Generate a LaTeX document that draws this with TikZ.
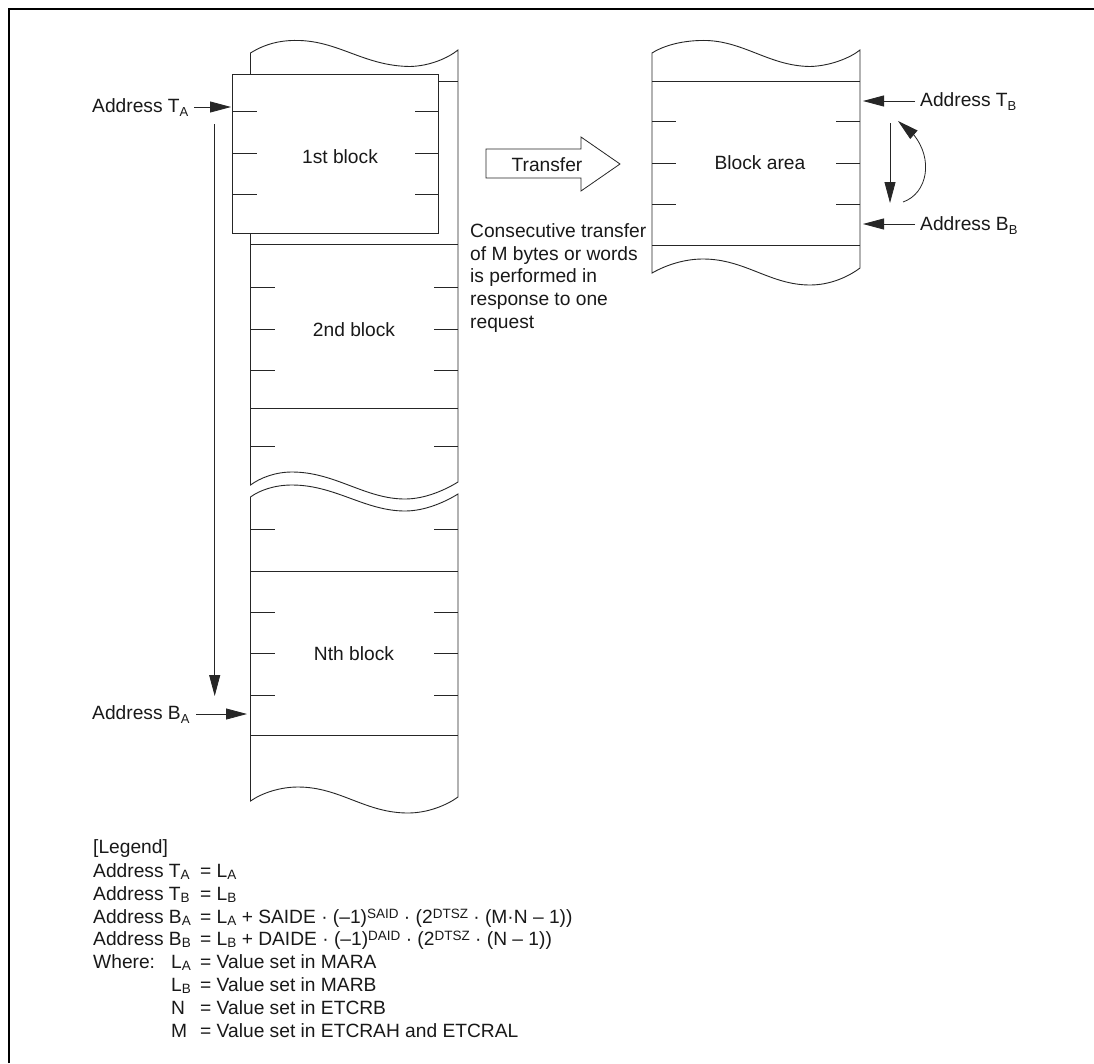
\documentclass[tikz,border=0pt]{standalone}
\usepackage{fontspec}
\setmainfont{Liberation Sans}
\usetikzlibrary{arrows.meta,bending}
\newcommand{\subs}[1]{\raisebox{-4.5pt}{\fontsize{13}{13}\selectfont #1}}
\newcommand{\lsub}[1]{\raisebox{-2pt}{\fontsize{13.5}{13.5}\selectfont #1}}
\newcommand{\sups}[1]{\raisebox{4.3pt}{\fontsize{13.5}{13.5}\selectfont #1}}
\tikzset{
  ln/.style={draw=black!85, line width=0.9pt},
  hd/.style={-{Triangle[length=21pt,width=11pt]}, draw=black!85, line width=0.8pt},
  lab/.style={anchor=base west, inner sep=0pt, text=black!90, font=\fontsize{19.2}{19.2}\selectfont},
  ctr/.style={anchor=base, inner sep=0pt, text=black!90, font=\fontsize{19.2}{19.2}\selectfont}
}
\begin{document}
\begin{tikzpicture}[x=1pt,y=-1pt]
\useasboundingbox (0,0) rectangle (1094,1063);
\path[fill=white] (0,0) rectangle (1094,1063);
\draw[black,line width=2pt] (9,1063) -- (9,9) -- (1094,9);
% memory A top part
\draw[ln] (250.5,74) -- (250.5,53) .. controls (268,42) and (285,40) .. (300,40.5) .. controls (340,42) and (365,66) .. (410,66.5) .. controls (430,66) and (448,58) .. (458,50) -- (458,482) .. controls (445,490) and (425,499) .. (405,499) .. controls (365,499) and (335,472) .. (292,472) .. controls (275,472) and (260,478) .. (250.5,485) -- (250.5,233);
\draw[ln] (438,81) -- (458,81);
\draw[ln] (250.5,244.5) -- (458,244.5);
\node[ctr] (n2) at (354,336) {2nd block};
\foreach \y in {287,329,370,446}{
  \draw[ln] (250.5,\y) -- +(24,0);
  \draw[ln] (458,\y) -- +(-24,0);
}
\draw[ln] (250.5,408) -- (458,408);
% first block
\draw[ln,fill=white] (232.5,74.5) rectangle (438.5,233);
\foreach \y in {111.5,153.5,194}{
  \draw[ln] (232.5,\y) -- +(24,0);
  \draw[ln] (438.5,\y) -- +(-24,0);
}
\node[ctr] (n1) at (340,163) {1st block};
% memory A lower part
\draw[ln] (458,494) .. controls (445,502) and (425,511) .. (405,511) .. controls (365,511) and (335,485) .. (292,485) .. controls (275,485) and (260,490) .. (250.5,497) -- (250.5,801) .. controls (262,793) and (280,787) .. (298,787) .. controls (340,787) and (365,813) .. (408,813) .. controls (428,813) and (447,805) .. (458,797) -- cycle;
\foreach \y in {529,612,653,695}{
  \draw[ln] (250.5,\y) -- +(24,0);
  \draw[ln] (458,\y) -- +(-24,0);
}
\draw[ln] (250.5,571) -- (458,571);
\draw[ln] (250.5,735) -- (458,735);
\node[ctr] (nn) at (354,660) {Nth block};
% memory B
\draw[ln] (652,53) .. controls (668,43) and (690,40) .. (707,40.5) .. controls (745,42) and (770,66) .. (810,66.5) .. controls (830,66) and (850,58) .. (860,50) -- (860,268) .. controls (848,277) and (830,285) .. (810,285) .. controls (770,285) and (745,259) .. (703,259) .. controls (686,259) and (668,264) .. (652,273) -- cycle;
\draw[ln] (652,81.5) -- (860,81.5);
\draw[ln] (652,245) -- (860,245);
\foreach \y in {121,163,204}{
  \draw[ln] (652,\y) -- +(24,0);
  \draw[ln] (860,\y) -- +(-24,0);
}
\node[ctr] (na) at (760,169) {Block area};
% transfer arrow
\draw[ln,line width=0.8pt] (486,149) -- (581,149) -- (581,137) -- (620,164) -- (581,191) -- (581,178) -- (486,178) -- cycle;
\node[ctr] (nt) at (547,171) {Transfer};
% address labels
\node[lab] (ta) at (92,112) {Address T\subs{A}};
\node[lab] (ba) at (92,719) {Address B\subs{A}};
\node[lab] (tb) at (920,106) {Address T\subs{B}};
\node[lab] (bb) at (920,230) {Address B\subs{B}};
\coordinate (tahead) at (231,107);
\coordinate (bahead) at (247,714);
\coordinate (tbhead) at (863,101);
\coordinate (bbhead) at (863,224);
\draw[hd] (194,107) -- (tahead);
\draw[hd] (196,714) -- (bahead);
\draw[hd] (915,101) -- (tbhead);
\draw[hd] (915,224) -- (bbhead);
\coordinate (a1) at (214.7,124);
\coordinate (a2) at (214.7,696);
\draw[hd] (a1) -- (a2);
\coordinate (b1) at (890,123);
\coordinate (b2) at (890,203);
\draw[hd] (b1) -- (b2);
\coordinate (c1) at (903,202);
\coordinate (c2) at (898,121);
\draw[hd] (c1) .. controls (932,192) and (936,145) .. (c2);
% note text
\foreach \y/\t in {237/{Consecutive transfer},260/{of M bytes or words},282/{is performed in},305/{response to one},328/{request}}{
  \node[lab] at (470,\y) {\t};
}
% legend
\node[lab] (l0) at (93,853) {[Legend]};
\node[lab] (l1) at (93,877) {Address T\lsub{A}};
\node[lab] (l2) at (93,900) {Address T\lsub{B}};
\node[lab] (l3) at (93,923) {Address B\lsub{A}};
\node[lab] (l4) at (93,945) {Address B\lsub{B}};
\node[lab] (l5) at (93,968) {Where:};
\node[lab] at (200,877) {= L\lsub{A}};
\node[lab] at (200,900) {= L\lsub{B}};
\node[lab] at (200,923) {= L\lsub{A} + SAIDE · (–1)\sups{SAID} · (2\sups{DTSZ} · (M·N – 1))};
\node[lab] at (200,945) {= L\lsub{B} + DAIDE · (–1)\sups{DAID} · (2\sups{DTSZ} · (N – 1))};
\node[lab] at (171,968) {L\lsub{A}};
\node[lab] at (171,991) {L\lsub{B}};
\node[lab] at (171,1014) {N};
\node[lab] at (171,1037) {M};
\node[lab] at (200,968) {= Value set in MARA};
\node[lab] at (200,991) {= Value set in MARB};
\node[lab] at (200,1014) {= Value set in ETCRB};
\node[lab] at (200,1037) {= Value set in ETCRAH and ETCRAL};
\end{tikzpicture}
\end{document}
